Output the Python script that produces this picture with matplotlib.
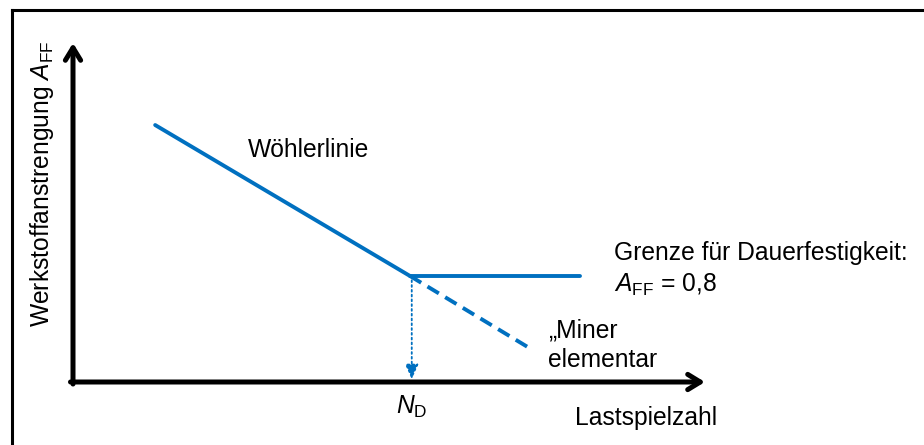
import matplotlib
matplotlib.use("Agg")
import matplotlib.pyplot as plt
from matplotlib.lines import Line2D

plt.rcParams['font.family'] = ['Liberation Sans', 'DejaVu Sans']
plt.rcParams['mathtext.fontset'] = 'custom'
plt.rcParams['mathtext.rm'] = 'Liberation Sans'
plt.rcParams['mathtext.it'] = 'Liberation Sans:italic'

# schematic coordinates: origin at the axis crossing, arrow tips at 100
woehler_x = [13.0, 53.3]
woehler_y = [75.8, 31.3]
limit_x = [53.3, 80.2]
limit_y = [31.3, 31.3]
miner_x = [53.3, 72.5]
miner_y = [31.3, 9.7]
n_d = 53.6

blue = '#0070C0'
fs = 17.7

fig = plt.figure(figsize=(9.24, 4.45), dpi=100)
ax = fig.add_axes([73 / 924, 63 / 445, 632 / 924, 339 / 445])
ax.set_xlim(0, 100)
ax.set_ylim(0, 100)
ax.axis('off')

# frame round the picture (only left and top edge visible)
fig.add_artist(Line2D([12 / 924, 12 / 924], [-0.1, 1 - 10 / 445],
                      transform=fig.transFigure, color='black', lw=2.2))
fig.add_artist(Line2D([12 / 924, 1.1], [1 - 10 / 445, 1 - 10 / 445],
                      transform=fig.transFigure, color='black', lw=2.2))

# axes arrows
arrow = dict(arrowstyle='->,head_length=0.9,head_width=0.55', color='black',
             lw=3.6, shrinkA=0, shrinkB=0, capstyle='round')
ax.annotate('', xy=(100, 0), xytext=(-0.4, 0), arrowprops=arrow, annotation_clip=False)
ax.annotate('', xy=(0, 100), xytext=(0, -0.6), arrowprops=arrow, annotation_clip=False)

ax.plot(woehler_x, woehler_y, color=blue, lw=2.8, solid_capstyle='round', clip_on=False)
ax.plot(limit_x, limit_y, color=blue, lw=2.8, solid_capstyle='round', clip_on=False)
ax.plot(miner_x, miner_y, color=blue, lw=2.8, ls=(0, (3.4, 1.9)), clip_on=False)

ax.annotate('', xy=(n_d, 0.8), xytext=(n_d, 30),
            arrowprops=dict(arrowstyle='-|>,head_length=0.9,head_width=0.4',
                            color=blue, lw=1.3, ls=':', shrinkA=0, shrinkB=0))

ax.text(27.7, 68.4, 'Wöhlerlinie', fontsize=fs, va='center', ha='left')
ax.text(85.6, 38.1, 'Grenze für Dauerfestigkeit:', fontsize=fs, va='center', ha='left')
ax.text(85.6, 28.6, r'$A_{\mathrm{FF}}$ = 0,8', fontsize=fs, va='center', ha='left')
ax.text(75.2, 15.3, '„Miner', fontsize=fs, va='center', ha='left')
ax.text(75.2, 6.5, 'elementar', fontsize=fs, va='center', ha='left')
ax.text(n_d, -7.4, r'$N_{\mathrm{D}}$', fontsize=fs, va='center', ha='center')
ax.text(79.4, -10.6, 'Lastspielzahl', fontsize=fs, va='center', ha='left')
ax.text(-4.9, 58.5, r'Werkstoffanstrengung $A_{\mathrm{FF}}$', fontsize=fs,
        va='center', ha='center', rotation=90)

fig.savefig('out.png', dpi=100)
